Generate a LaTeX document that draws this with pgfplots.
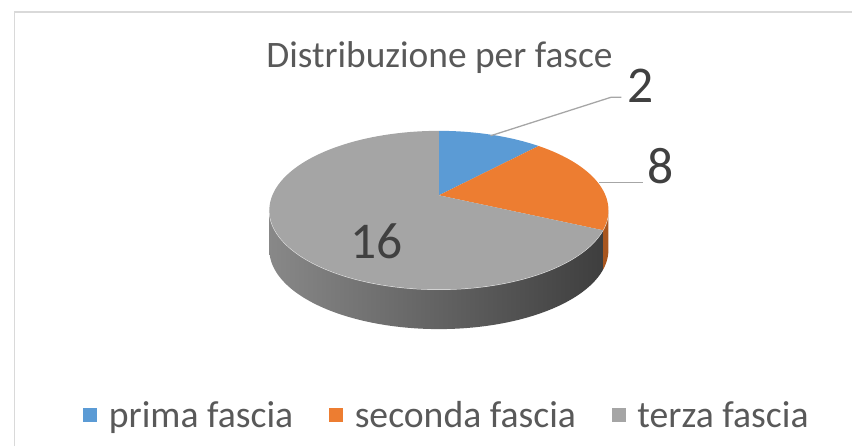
\documentclass[border=0pt]{standalone}
\usepackage{pgfplots}
\pgfplotsset{compat=1.18}
\usepackage{pgfplotstable}
\usepackage{fontspec}
\setmainfont{Carlito}
\definecolor{cblue}{HTML}{5B9BD5}
\definecolor{corange}{HTML}{ED7D31}
\definecolor{cgray}{HTML}{A5A5A5}
\definecolor{ctext}{HTML}{595959}
\definecolor{clabel}{HTML}{404040}
\definecolor{cframe}{HTML}{D9D9D9}
\definecolor{cline}{HTML}{A6A6A6}
\definecolor{corangeside}{HTML}{A8561F}
\definecolor{cgrayL}{HTML}{888888}
\definecolor{cgrayR}{HTML}{3E3E3E}

% slice sizes (degrees as drawn) and values shown
\pgfplotstableread{
name value deg
prima 2 42.9
seconda 8 72.0
terza 16 245.1
}\piedata

\def\cx{436}\def\pieR{168}\def\pieC{0.1875}\def\pieA{197}\def\pieB{40.25}\def\depth{40}
\def\vL{100.8}\def\vR{259.2}
\newcommand\RX[1]{\cx+\pieR*sin(#1)/(1+\pieC*cos(#1))}
\newcommand\RY[1]{(\pieA-\pieB*cos(#1))/(1+\pieC*cos(#1))}

\begin{document}
\pgfplotstablegetelem{0}{deg}\of\piedata \pgfmathsetmacro\aA{\pgfplotsretval}
\pgfplotstablegetelem{1}{deg}\of\piedata \pgfmathsetmacro\aB{\aA+\pgfplotsretval}
\pgfplotstablegetelem{2}{deg}\of\piedata \pgfmathsetmacro\aC{\aB+\pgfplotsretval}
\begin{tikzpicture}
\begin{axis}[hide axis, scale only axis, width=853pt, height=450pt,
  xmin=0, xmax=853, ymin=0, ymax=450, y dir=reverse, clip=false,
  legend columns=3,
  legend style={at={(axis cs:444,419)}, anchor=center, draw=none, fill=none,
    font=\fontsize{38}{42}\selectfont, text=ctext,
    /tikz/every even column/.append style={column sep=34pt}},
]
\path (axis cs:0,0) rectangle (axis cs:853,450);
\draw[cframe, line width=1.5pt] (axis cs:8,450) -- (axis cs:8,12) -- (axis cs:853,12);

% sides
\addplot[forget plot, draw=none, fill=corangeside, domain=0:2, samples=201]
  ({\RX{(\vL+(\aB-\vL)*(1-abs(1-x)))}},{\RY{(\vL+(\aB-\vL)*(1-abs(1-x)))}+\depth*(x>1)});
\addplot[forget plot, draw=none, left color=cgrayL, right color=cgrayR, domain=0:2, samples=301]
  ({\RX{(\aB+(\vR-\aB)*(1-abs(1-x)))}},{\RY{(\aB+(\vR-\aB)*(1-abs(1-x)))}+\depth*(x>1)});
\addplot[forget plot, draw=white!85!gray, line width=1pt, domain=\vL:\vR, samples=100]
  ({\RX{x}},{\RY{x}});

% top
\addplot[forget plot, fill=cblue, draw=none, domain=0:\aA, samples=40]
  ({\RX{x}},{\RY{x}}) -- (axis cs:\cx,\pieA) -- cycle;
\addplot[forget plot, fill=corange, draw=none, domain=\aA:\aB, samples=60]
  ({\RX{x}},{\RY{x}}) -- (axis cs:\cx,\pieA) -- cycle;
\addplot[forget plot, fill=cgray, draw=none, domain=\aB:\aC, samples=160]
  ({\RX{x}},{\RY{x}}) -- (axis cs:\cx,\pieA) -- cycle;

% leader lines
\draw[cline, line width=1.3pt] (axis cs:488,137) -- (axis cs:610,98) -- (axis cs:620,98);
\draw[cline, line width=1.3pt] (axis cs:597,184) -- (axis cs:642,184);

% labels
\node[anchor=base, text=ctext, font=\fontsize{37.7}{40}\selectfont] at (axis cs:436.5,68) {Distribuzione per fasce};
\node[anchor=base, text=clabel, font=\fontsize{52}{56}\selectfont] at (axis cs:639,103) {2};
\node[anchor=base, text=clabel, font=\fontsize{52}{56}\selectfont] at (axis cs:660,185) {8};
\node[anchor=base, text=clabel, font=\fontsize{52}{56}\selectfont] at (axis cs:373,261) {16};

% legend
\addlegendimage{legend image code/.code={\fill[cblue, draw=none] (0pt,-7pt) rectangle (14pt,7pt); \path[draw=none, fill=none] (0pt,0pt) -- (24pt,0pt);}}
\addlegendentry{prima fascia}
\addlegendimage{legend image code/.code={\fill[corange, draw=none] (0pt,-7pt) rectangle (14pt,7pt); \path[draw=none, fill=none] (0pt,0pt) -- (24pt,0pt);}}
\addlegendentry{seconda fascia}
\addlegendimage{legend image code/.code={\fill[cgray, draw=none] (0pt,-7pt) rectangle (14pt,7pt); \path[draw=none, fill=none] (0pt,0pt) -- (24pt,0pt);}}
\addlegendentry{terza fascia}
\end{axis}
\end{tikzpicture}
\end{document}
